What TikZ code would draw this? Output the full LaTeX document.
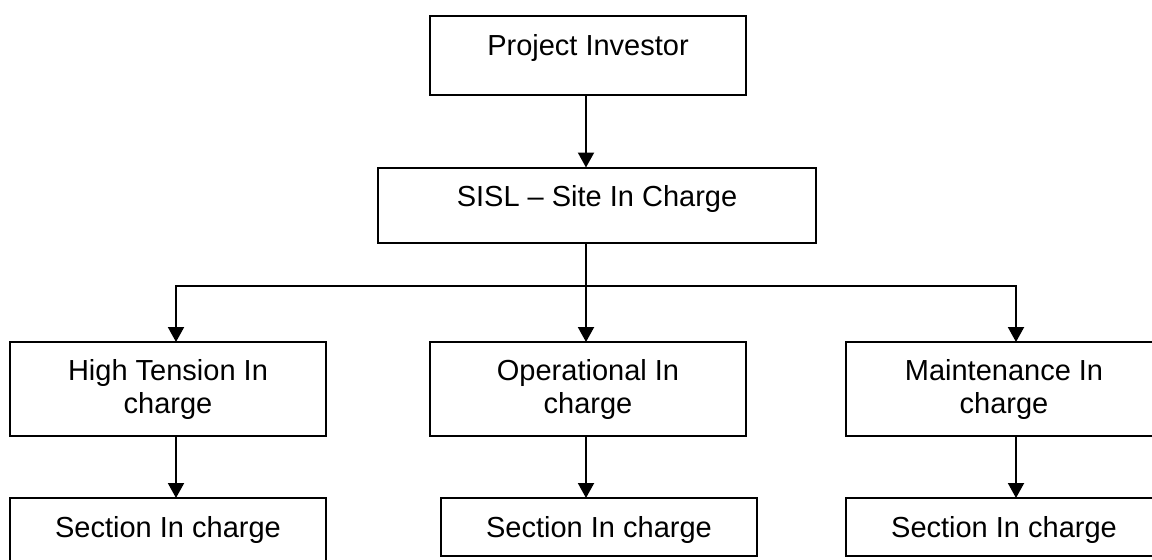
\documentclass[tikz,border=0pt]{standalone}
\usepackage{fontspec}
\setmainfont{Liberation Sans}
\usetikzlibrary{positioning,arrows.meta}

\begin{document}
\begin{tikzpicture}[
    x=0.5pt, y=-0.5pt,
    block/.style={
        rectangle, draw,
        minimum width=158pt,
        inner xsep=0pt, inner ysep=0pt, outer sep=0pt,
        align=center, text height=19.5pt,
        line width=1pt, font=\fontsize{14.5pt}{16.5pt}\selectfont
    },
    twoline/.style={text height=35.75pt, text depth=11.25pt},
    arrow/.style={-{Triangle[length=7.5pt,width=8pt]}, line width=1pt}
]
  \useasboundingbox (0,0) rectangle (1152,559);

  % Nodes
  \node[block, anchor=north, text depth=19.75pt] (investor) at (588,16) {Project Investor};

  \node[block, minimum width=219pt, text depth=18.25pt, below=36.5pt of investor, xshift=4.5pt] (site) {SISL – Site In Charge};

  \node[block, twoline, below=49.5pt of site, xshift=-4.5pt] (operational) {Operational In\\charge};

  \node[block, twoline, left=52pt of operational] (tension) {High Tension In\\charge};

  \node[block, twoline, right=50pt of operational] (maintenance) {Maintenance In\\charge};

  \node[block, text depth=12.5pt, below=31pt of tension] (sectionA) {Section In charge};

  \node[block, text depth=9.5pt, below=31pt of operational, xshift=5.5pt] (sectionB) {Section In charge};

  \node[block, text depth=9.5pt, below=31pt of maintenance] (sectionC) {Section In charge};

  % Fork points
  \coordinate (forkL) at (176,286);
  \coordinate (forkM) at (586,286);
  \coordinate (forkR) at (1016,286);

  % Flow arrows
  \draw[arrow] (investor.south -| forkM) -- (site.north -| forkM);

  \draw[arrow] (site.south -| forkM) -- (operational.north -| forkM);
  \draw[arrow] (forkM) -| (tension.north -| forkL);
  \draw[arrow] (forkM) -| (maintenance.north -| forkR);

  \draw[arrow] (tension.south -| forkL) -- (sectionA.north -| forkL);
  \draw[arrow] (operational.south -| forkM) -- (sectionB.north -| forkM);
  \draw[arrow] (maintenance.south -| forkR) -- (sectionC.north -| forkR);

\end{tikzpicture}
\end{document}
